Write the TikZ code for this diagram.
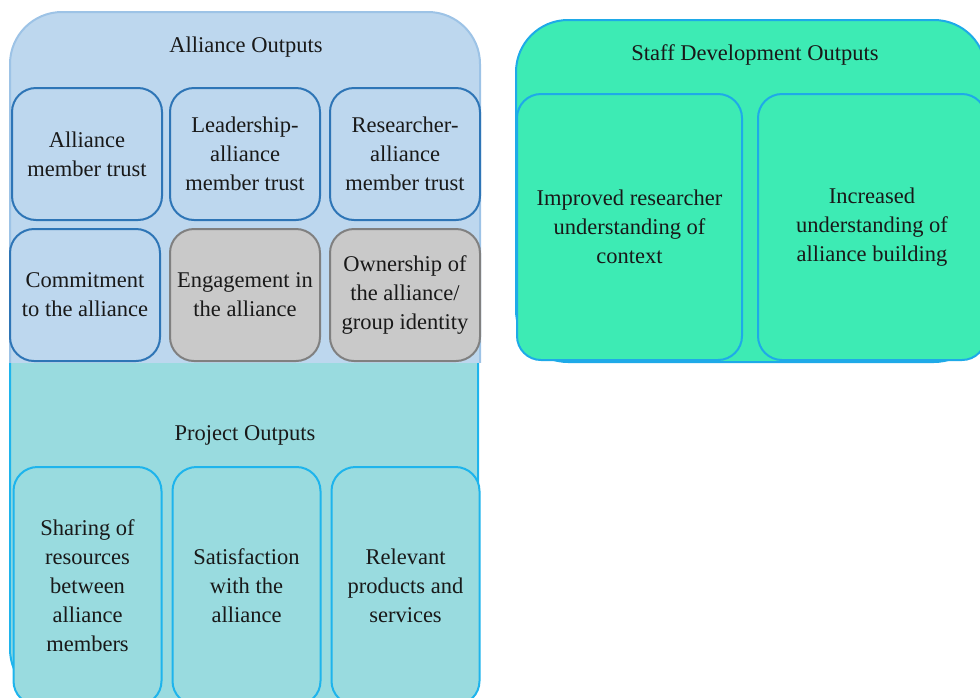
\documentclass[tikz,border=0pt]{standalone}
\usepackage{fontspec}
\setmainfont{Liberation Serif}
\definecolor{aofill}{HTML}{BDD7EE}
\definecolor{aoline}{HTML}{9DC3E6}
\definecolor{ailine}{HTML}{2E75B6}
\definecolor{gfill}{HTML}{C9C9C9}
\definecolor{gline}{HTML}{808080}
\definecolor{pfill}{HTML}{99DBDF}
\definecolor{pline}{HTML}{1EB4EC}
\definecolor{sfill}{HTML}{3DEBB4}
\definecolor{sline}{HTML}{1EAAE8}
\tikzset{
  outerbox/.style={rounded corners=52pt, line width=2pt, inner sep=0pt},
  cellbox/.style={rounded corners=24pt, line width=2pt, align=center, inner sep=0pt, text=black!90},
  abox/.style={cellbox, draw=ailine, fill=aofill, minimum width=150pt, minimum height=132pt},
  gbox/.style={cellbox, draw=gline, fill=gfill, minimum width=150pt, minimum height=132pt},
  pbox/.style={cellbox, draw=pline, fill=pfill, minimum width=148pt, minimum height=238pt},
  sbox/.style={cellbox, draw=sline, fill=sfill, minimum height=266pt},
  title/.style={inner sep=0pt, text=black!90},
}
\begin{document}
\begin{tikzpicture}[x=1pt, y=-1pt, font=\fontsize{22.5}{29}\selectfont]
\useasboundingbox (0,0) rectangle (980,697);
% Project outputs container
\node[outerbox, draw=pline, fill=pfill, minimum width=468pt, minimum height=461pt] (proj) at (244,470.5) {};
% Alliance outputs container (flat bottom)
\begin{scope}
\clip (0,0) rectangle (980,362);
\node[outerbox, draw=aoline, fill=aofill, minimum width=470pt, minimum height=420pt] (all) at (245,222) {};
\end{scope}
% Staff development container
\node[outerbox, draw=sline, fill=sfill, minimum width=470pt, minimum height=342pt] (staff) at (751,191) {};
% titles
\node[title] (allt) at (246,47) {Alliance Outputs};
\node[title] (projt) at (245,435) {Project Outputs};
\node[title] (stafft) at (755,55) {Staff Development Outputs};
% alliance cells
\node[abox] (a1) at (87,154) {Alliance\\member trust};
\node[abox] (a2) at (245,154) {Leadership-\\alliance\\member trust};
\node[abox] (a3) at (405,154) {Researcher-\\alliance\\member trust};
\node[abox] (b1) at (85,295) {Commitment\\to the alliance};
\node[gbox] (b2) at (245,295) {Engagement in\\the alliance};
\node[gbox] (b3) at (405,295) {Ownership of\\the alliance/\\group identity};
% project cells
\node[pbox] (c1) at (87.5,586) {Sharing of\\resources\\between\\alliance\\members};
\node[pbox] (c2) at (246.5,586) {Satisfaction\\with the\\alliance};
\node[pbox] (c3) at (405.5,586) {Relevant\\products and\\services};
% staff cells
\node[sbox, minimum width=225pt] (d1) at (629.5,227) {Improved researcher\\understanding of\\context};
\node[sbox, minimum width=228pt] (d2) at (872,227) {Increased\\understanding of\\alliance building};
\end{tikzpicture}
\end{document}
